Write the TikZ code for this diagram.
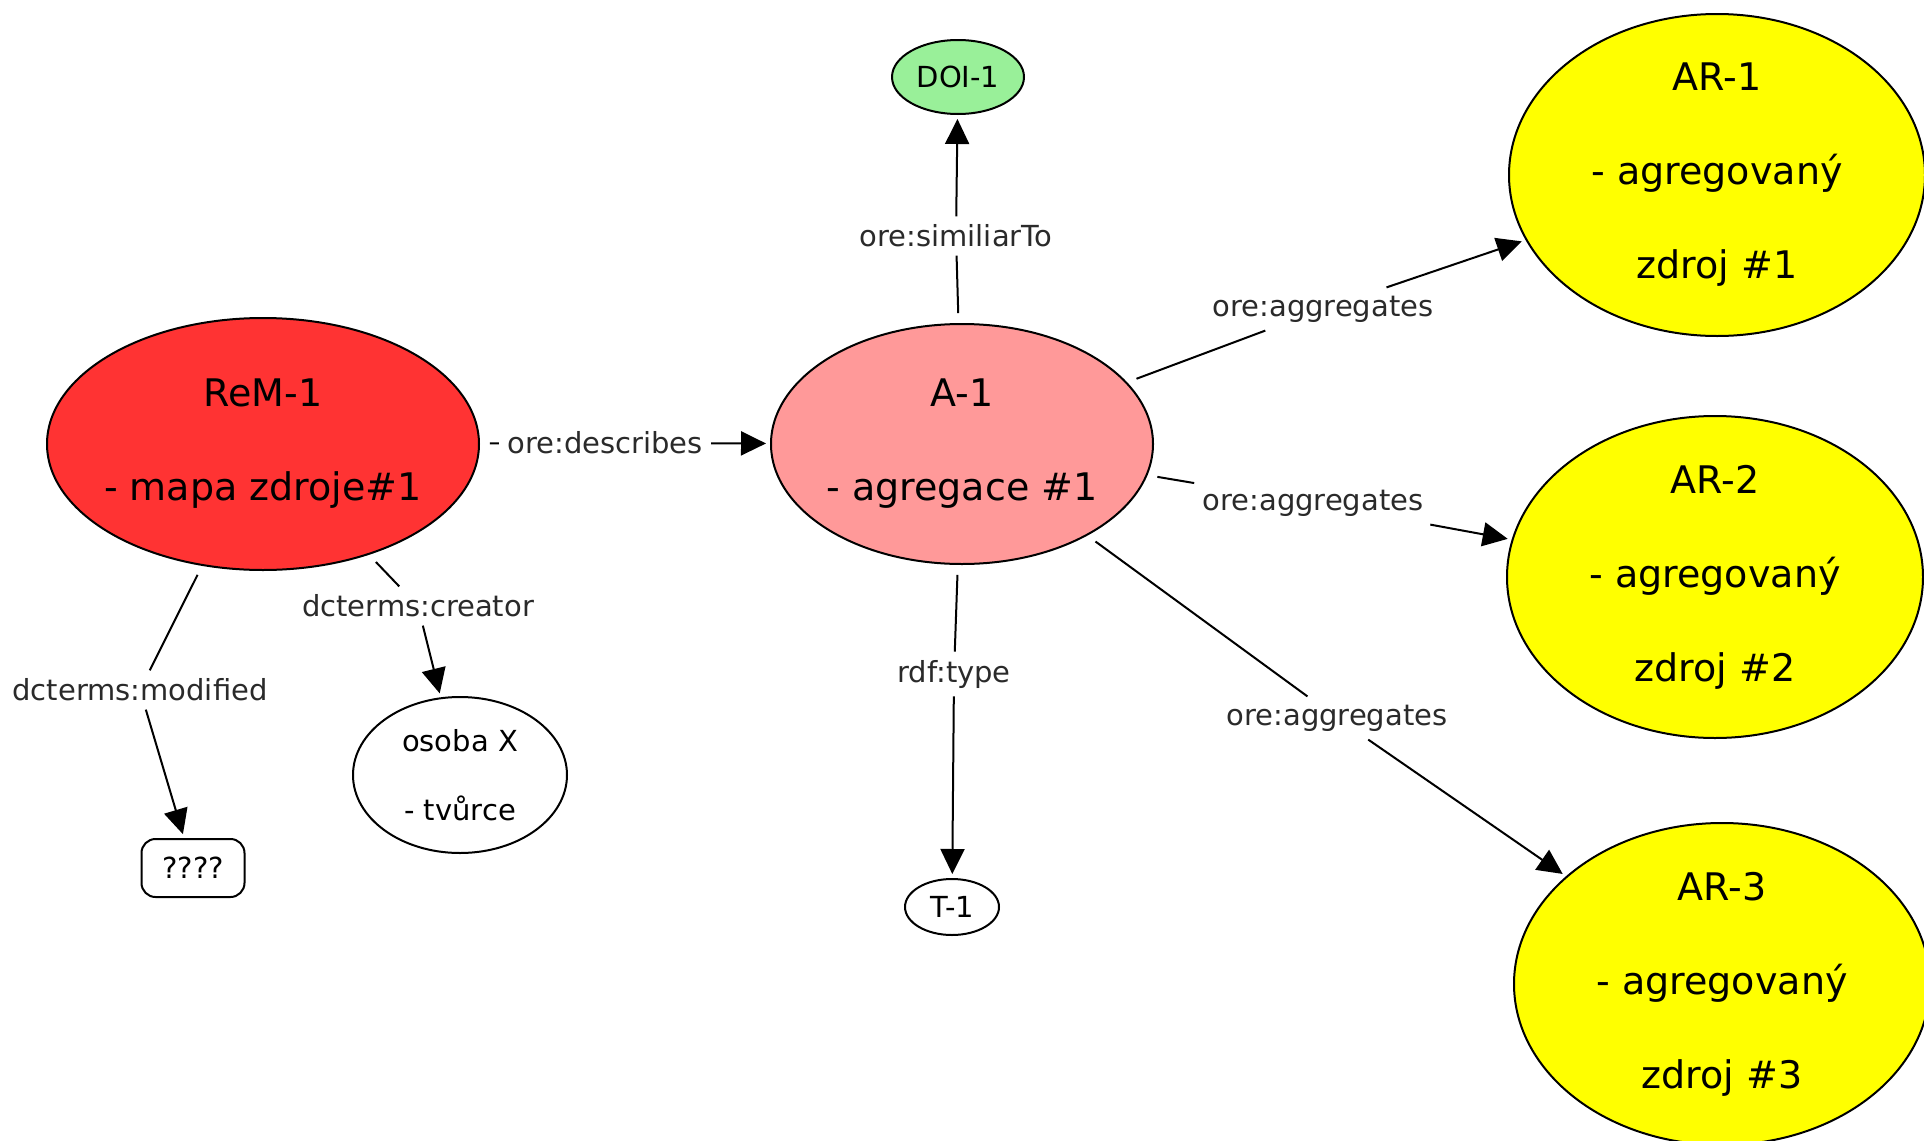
\documentclass[tikz,border=0pt]{standalone}
\usepackage{fontspec}
\setmainfont{DejaVu Sans}
\usetikzlibrary{shapes.geometric,arrows.meta}
\definecolor{remred}{HTML}{FF3333}
\definecolor{apink}{HTML}{FF9999}
\definecolor{doigreen}{HTML}{99F099}
\definecolor{aryellow}{HTML}{FFFF00}
\definecolor{labgray}{HTML}{2A2A2A}
\newcommand\bigfnt{\fontsize{19pt}{47pt}\selectfont}
\newcommand\smfnt{\fontsize{14.5pt}{34.5pt}\selectfont}
\newcommand\zb[1]{\makebox[0pt]{#1}}
\tikzset{
  concept/.style={ellipse,draw=black,line width=1pt,inner sep=0pt,align=center},
  bigc/.style={concept,font=\bigfnt},
  smallc/.style={concept,font=\smfnt},
  linklab/.style={font=\smfnt,text=labgray,inner sep=4pt,fill=white},
  seg/.style={draw=black,line width=1pt,shorten <=5pt},
  arr/.style={draw=black,line width=1pt,shorten >=2pt,-{Triangle[length=12.5pt,width=12pt]}},
}
\begin{document}
\begin{tikzpicture}[x=0.5pt,y=-0.5pt]
\useasboundingbox (0,0) rectangle (1924,1141);
\fill[white] (0,0) rectangle (1924,1141);
% concepts
\node[bigc,fill=remred,minimum width=216pt,minimum height=126pt] (rem) at (263,444) {\zb{ReM-1}\\\zb{- mapa zdroje\#1}};
\node[bigc,fill=apink,minimum width=191pt,minimum height=120pt] (a1) at (962,444) {\zb{A-1}\\\zb{- agregace \#1}};
\node[smallc,fill=doigreen,minimum width=66pt,minimum height=37pt] (doi) at (958,77) {\zb{DOI-1}};
\node[bigc,fill=aryellow,minimum width=208pt,minimum height=161pt] (ar1) at (1717,175) {\zb{AR-1}\\\zb{- agregovaný}\\\zb{zdroj \#1}};
\node[bigc,fill=aryellow,minimum width=208pt,minimum height=161pt] (ar2) at (1715,577) {\zb{AR-2}\\\zb{- agregovaný}\\\zb{zdroj \#2}};
\node[bigc,fill=aryellow,minimum width=208pt,minimum height=161pt] (ar3) at (1722,984) {\zb{AR-3}\\\zb{- agregovaný}\\\zb{zdroj \#3}};
\node[smallc,fill=white,minimum width=107pt,minimum height=78pt] (osoba) at (460,775) {\zb{osoba X}\\\zb{- tvůrce}};
\node[smallc,fill=white,minimum width=47pt,minimum height=28pt] (t1) at (952,907) {\zb{T-1}};
\node[draw=black,line width=1pt,rounded corners=7pt,font=\smfnt,minimum width=51.5pt,minimum height=29pt,inner sep=0pt] (q) at (193,868) {????};
% linking phrases
\node[linklab] (ldesc) at (605,443) {ore:describes};
\node[linklab] (lsim) at (956,236) {ore:similiarTo};
\node[linklab] (lagg1) at (1323,309) {ore:aggregates};
\node[linklab] (lagg2) at (1313,503) {ore:aggregates};
\node[linklab] (lagg3) at (1337,718) {ore:aggregates};
\node[linklab] (ltype) at (954,674) {rdf:type};
\node[linklab] (lcre) at (418,606) {dcterms:creator};
\node[linklab] (lmod) at (140,690) {dcterms:modified};
% connectors
\path[seg] (rem) -- (ldesc);
\path[arr] (ldesc) -- (a1);
\path[seg] (a1) -- (lsim);
\path[arr] (lsim) -- (doi);
\path[seg] (a1) -- (lagg1);
\path[arr] (lagg1) -- (ar1);
\path[seg] (a1) -- (lagg2);
\path[arr] (lagg2) -- (ar2);
\path[seg] (a1) -- (lagg3);
\path[arr] (lagg3) -- (ar3);
\path[seg] (a1) -- (ltype);
\path[arr] (ltype) -- (t1);
\path[seg] (rem) -- (lcre);
\path[arr] (lcre) -- (osoba);
\path[seg] (rem) -- (lmod);
\path[arr] (lmod) -- (q);
\end{tikzpicture}
\end{document}
